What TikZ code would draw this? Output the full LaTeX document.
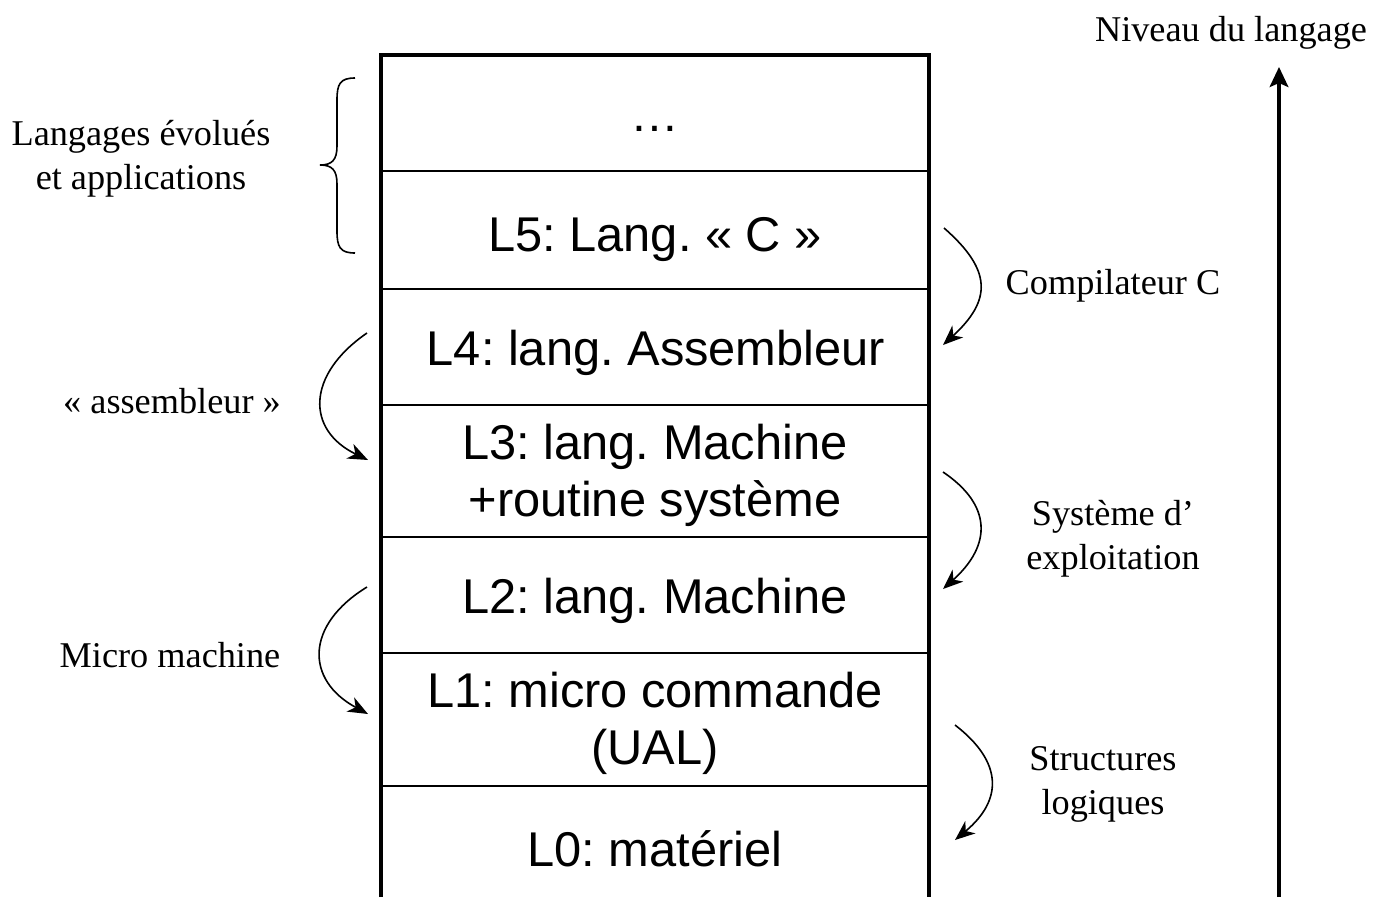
\documentclass[tikz,border=0pt]{standalone}
\usepackage{fontspec}
\setmainfont{Liberation Serif}
\newfontfamily\boxfont{Liberation Sans}
\usetikzlibrary{arrows.meta}
\frenchspacing
\begin{document}
\begin{tikzpicture}[x=0.75pt,y=-0.75pt,
  level/.style={font=\boxfont\fontsize{36.6}{42.75}\selectfont, align=center, inner sep=0pt},
  side/.style={font=\fontsize{27.2}{33}\selectfont, align=center, inner sep=0pt},
  frame/.style={line width=3pt},
  sep/.style={line width=1.5pt},
  curvearrow/.style={line width=1.2pt, -{Stealth[length=15pt,width=12pt,inset=4.5pt]}},
  axis/.style={line width=2.5pt, -{Stealth[length=15pt,width=14pt,inset=3pt]}}]
\useasboundingbox (0,0) rectangle (1385,897);

% open-bottomed frame of the level stack
\draw[frame] (381,897) -- (381,55) -- (929,55) -- (929,897);
% separators between levels
\foreach \y in {171,289,405,537,653,786}
  \draw[sep] (381,\y) -- (929,\y);

% levels
\node[level] (ldots) at (655,129) {…};
\node[level] (l5) at (655,240) {L5: Lang. « C »};
\node[level] (l4) at (656,353) {L4: lang. Assembleur};
\node[level] (l3) at (655,475) {L3: lang. Machine\\+routine système};
\node[level] (l2) at (655,601) {L2: lang. Machine};
\node[level] (l1) at (655,723) {L1: micro commande\\(UAL)};
\node[level] (l0) at (655,849) {L0: matériel};

% language level axis
\node[side] (niveau) at (1231,33) {Niveau du langage};
\coordinate (axbot) at (1279,897);
\coordinate (axtop) at (1279,67);
\draw[axis] (axbot) -- (axtop);

% left side: brace and translations
\node[side] (evolues) at (141,159) {Langages évolués\\et applications};
\draw[line width=1.2pt] (355,78) .. controls (340,78) and (337,84) .. (337,100)
  -- (337,146) .. controls (337,160) and (332,165) .. (320,165)
  .. controls (332,165) and (337,170) .. (337,184)
  -- (337,231) .. controls (337,247) and (340,253) .. (355,253);

\node[side] (assembleur) at (172,401) {« assembleur »};
\coordinate (a1) at (367,333);
\coordinate (a2) at (368,460);
\draw[curvearrow] (a1) .. controls (306,375) and (306,430) .. (a2);

\node[side] (micro) at (170,655) {Micro machine};
\coordinate (m1) at (367,587);
\coordinate (m2) at (368,714);
\draw[curvearrow] (m1) .. controls (305,625) and (305,680) .. (m2);

% right side: translations
\node[side] (compil) at (1113,286) {Compilateur C};
\coordinate (c1) at (944,228);
\coordinate (c2) at (943,345);
\draw[curvearrow] (c1) .. controls (992,270) and (992,300) .. (c2);

\node[side] (systeme) at (1113,539) {Système d’\\exploitation};
\coordinate (s1) at (943,472);
\coordinate (s2) at (943,589);
\draw[curvearrow] (s1) .. controls (992,505) and (992,545) .. (s2);

\node[side] (struct) at (1103,784) {Structures\\logiques};
\coordinate (t1) at (955,725);
\coordinate (t2) at (955,840);
\draw[curvearrow] (t1) .. controls (1003,762) and (1003,800) .. (t2);
\end{tikzpicture}
\end{document}
